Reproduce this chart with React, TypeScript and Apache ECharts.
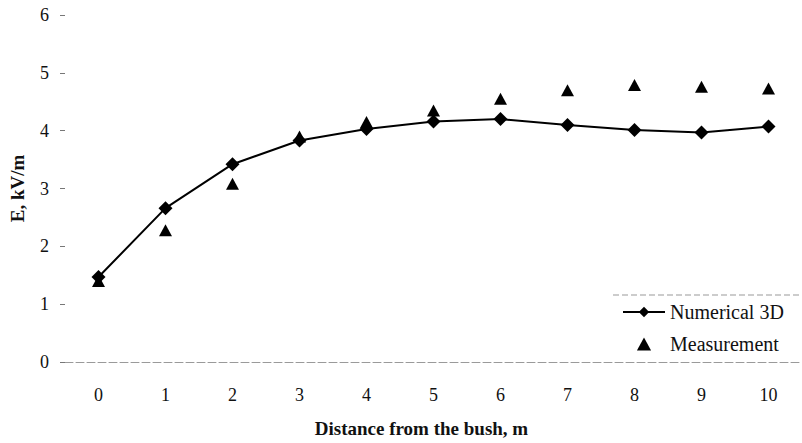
import React, { useEffect, useRef } from "react";
import * as echarts from "echarts";

const categories = ["0", "1", "2", "3", "4", "5", "6", "7", "8", "9", "10"];
const numerical3D = [1.47, 2.66, 3.42, 3.83, 4.03, 4.16, 4.2, 4.1, 4.01, 3.97, 4.07];
const measurement = [1.4, 2.28, 3.08, 3.9, 4.15, 4.35, 4.55, 4.7, 4.79, 4.76, 4.73];
const yTicks = { min: 0, max: 6, interval: 1 };

const FONT = "'Liberation Serif', 'Times New Roman', serif";

export default function App() {
  const ref = useRef<HTMLDivElement>(null);
  useEffect(() => {
    if (!ref.current) return;
    const chart = echarts.init(ref.current, undefined, { renderer: "svg" });
    chart.setOption({
      animation: false,
      backgroundColor: "#ffffff",
      textStyle: { fontFamily: FONT, color: "#111" },
      grid: { left: 64, right: 0, top: 15, bottom: 81 },
      legend: {
        orient: "vertical",
        left: 617,
        top: 297,
        itemWidth: 42,
        itemHeight: 13,
        itemGap: 12,
        symbolKeepAspect: true,
        textStyle: { fontFamily: FONT, fontSize: 20, color: "#111" },
        data: [
          { name: "Numerical 3D" },
          { name: "Measurement", icon: "path://M6,0L12,11L0,11Z" },
        ],
      },
      xAxis: {
        type: "category",
        data: categories,
        boundaryGap: true,
        name: "Distance from the bush, m",
        nameLocation: "middle",
        nameGap: 57,
        nameTextStyle: {
          fontFamily: FONT,
          fontWeight: "bold",
          fontSize: 19,
          color: "#111",
          padding: [0, 24, 0, 0],
        },
        axisLine: { show: true, lineStyle: { color: "#9a9a9a", width: 1, type: [8, 3] } },
        axisTick: { show: false },
        axisLabel: { fontFamily: FONT, fontSize: 18, color: "#111", margin: 24 },
        splitLine: { show: false },
      },
      yAxis: {
        type: "value",
        min: yTicks.min,
        max: yTicks.max,
        interval: yTicks.interval,
        name: "E, kV/m",
        nameLocation: "middle",
        nameRotate: 90,
        nameGap: 38,
        nameTextStyle: { fontFamily: FONT, fontWeight: "bold", fontSize: 19, color: "#111" },
        axisLine: { show: false },
        axisTick: { show: true, length: 5, lineStyle: { color: "#777" } },
        axisLabel: { fontFamily: FONT, fontSize: 18, color: "#111", margin: 16 },
        splitLine: { show: false },
      },
      graphic: [
        {
          type: "line",
          shape: { x1: 613, y1: 295, x2: 802, y2: 295 },
          style: { stroke: "#999", lineWidth: 1, lineDash: [6, 3] },
        },
      ],
      series: [
        {
          name: "Numerical 3D",
          type: "line",
          data: numerical3D,
          symbol: "diamond",
          symbolSize: 14,
          itemStyle: { color: "#000" },
          lineStyle: { color: "#000", width: 2 },
          z: 3,
        },
        {
          name: "Measurement",
          type: "scatter",
          data: measurement,
          symbol: "triangle",
          symbolSize: [13, 12],
          itemStyle: { color: "#000", opacity: 1 },
          z: 2,
        },
      ],
    });
    return () => chart.dispose();
  }, []);
  return (
    <div
      ref={ref}
      style={{ position: "fixed", left: 0, top: 0, width: 802, height: 443, background: "#fff" }}
    />
  );
}
